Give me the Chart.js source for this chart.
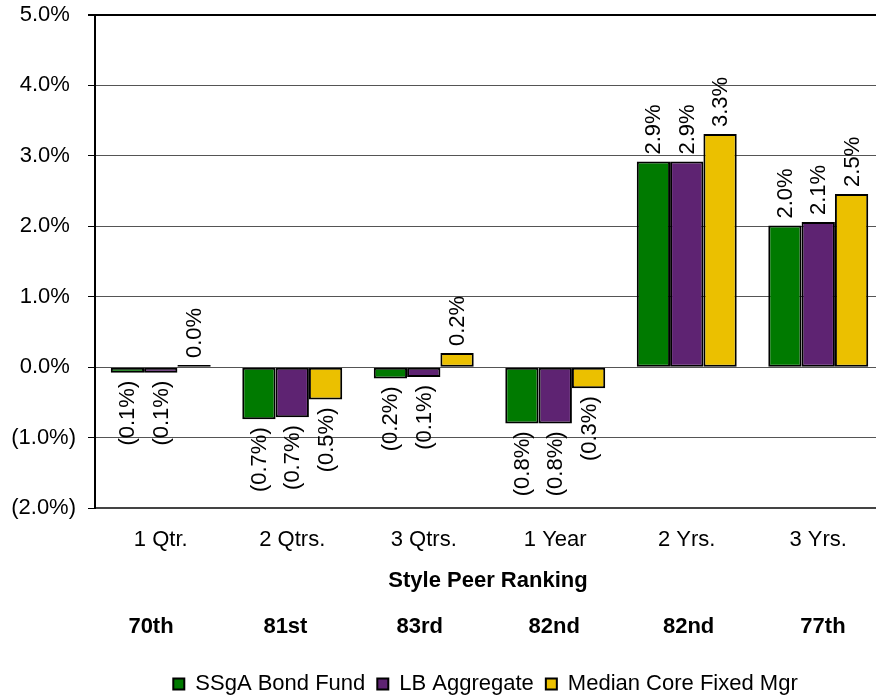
<!DOCTYPE html>
<html>
<head>
<meta charset="utf-8">
<script src="https://cdn.jsdelivr.net/npm/chart.js@4/dist/chart.umd.min.js"></script>
<style>
  html, body { margin: 0; padding: 0; background: #fff; overflow: hidden; }
  /* plot area runs a few px past the right edge, as in the original */
  #wrap { width: 876px; height: 700px; overflow: hidden; }
</style>
</head>
<body>
<div id="wrap"><canvas id="myChart" width="884" height="700"></canvas></div>
<script>
const periods = ['1 Qtr.', '2 Qtrs.', '3 Qtrs.', '1 Year', '2 Yrs.', '3 Yrs.'];
const ssgaFund = [-0.08, -0.74, -0.16, -0.80, 2.92, 2.01];
const lbAggregate = [-0.08, -0.71, -0.14, -0.80, 2.92, 2.06];
const medianCore = [0.03, -0.46, 0.20, -0.30, 3.31, 2.46];
const peerRanks = ['70th', '81st', '83rd', '82nd', '82nd', '77th'];

const FONT = 'Liberation Sans, Arial, sans-serif';

const fmtPct = v => v < 0 ? '(' + Math.abs(v).toFixed(1) + '%)' : v.toFixed(1) + '%';

// rotated value labels above/below each bar
const barLabels = {
    id: 'barLabels',
    afterDatasetsDraw(chart) {
        const ctx = chart.ctx;
        ctx.save();
        ctx.font = '22px ' + FONT;
        ctx.fillStyle = '#000';
        ctx.textBaseline = 'middle';
        chart.data.datasets.forEach((ds, i) => {
            chart.getDatasetMeta(i).data.forEach((bar, j) => {
                const v = ds.data[j];
                ctx.save();
                if (v >= 0) {
                    ctx.translate(bar.x, bar.y - 7);
                    ctx.rotate(-Math.PI / 2);
                    ctx.textAlign = 'left';
                } else {
                    ctx.translate(bar.x, bar.y + 8);
                    ctx.rotate(-Math.PI / 2);
                    ctx.textAlign = 'right';
                }
                ctx.fillText(fmtPct(v), 0, 1);
                ctx.restore();
            });
        });
        ctx.restore();
    }
};

// style peer ranking rows under the axis, legend centred under the visible plot
const peerRow = {
    id: 'peerRow',
    beforeDraw(chart) {
        chart.legend.left = chart.chartArea.left;
        chart.legend.right = 876;
        chart.legend.top = chart.chartArea.bottom + 153;
    },
    afterDraw(chart) {
        const ctx = chart.ctx;
        const x = chart.scales.x;
        const step = (x.getPixelForValue(1) - x.getPixelForValue(0)) * 1.022;
        ctx.save();
        ctx.font = 'bold 22px ' + FONT;
        ctx.fillStyle = '#000';
        ctx.textAlign = 'center';
        ctx.textBaseline = 'middle';
        ctx.fillText('Style Peer Ranking', 488, 581);
        peerRanks.forEach((r, i) => {
            ctx.fillText(r, 487 + (i - 2.5) * step, 627);
        });
        ctx.restore();
    }
};

new Chart(document.getElementById('myChart'), {
    type: 'bar',
    data: {
        labels: periods,
        datasets: [{
            label: 'SSgA Bond Fund',
            data: ssgaFund,
            backgroundColor: '#007A00',
            borderColor: '#000',
            borderWidth: 2,
            borderSkipped: false
        }, {
            label: 'LB Aggregate',
            data: lbAggregate,
            backgroundColor: '#5E2372',
            borderColor: '#000',
            borderWidth: 2,
            borderSkipped: false
        }, {
            label: 'Median Core Fixed Mgr',
            data: medianCore,
            backgroundColor: '#EBC000',
            borderColor: '#000',
            borderWidth: 2,
            borderSkipped: false
        }]
    },
    options: {
        responsive: false,
        animation: false,
        layout: { padding: { top: 15, right: 0, bottom: 2, left: 0 } },
        datasets: { bar: { categoryPercentage: 0.76, barPercentage: 1.0 } },
        scales: {
            x: {
                grid: { display: false, drawTicks: false },
                border: { color: '#444', width: 2 },
                ticks: { color: '#000', font: { family: FONT, size: 22 }, padding: 19 },
                afterFit: s => { s.height = 146; s.paddingLeft = 0; s.paddingRight = 0; }
            },
            y: {
                min: -2,
                max: 5,
                ticks: {
                    stepSize: 1,
                    color: '#000',
                    font: { family: FONT, size: 22 },
                    padding: 12,
                    callback: v => v < 0 ? fmtPct(v) : fmtPct(v) + ' '
                },
                grid: {
                    color: c => c.tick && c.tick.value === 5 ? '#000' : '#555',
                    lineWidth: c => c.tick && c.tick.value === 5 ? 2 : 1,
                    tickColor: '#000',
                    tickLength: 7
                },
                border: { color: '#000', width: 2 },
                afterFit: s => { s.width = 95; s.paddingTop = 0; s.paddingBottom = 0; }
            }
        },
        plugins: {
            legend: {
                position: 'bottom',
                labels: {
                    color: '#000',
                    font: { family: FONT, size: 22 },
                    boxWidth: 11,
                    boxHeight: 11,
                    padding: 12
                }
            },
            tooltip: { enabled: false }
        }
    },
    plugins: [barLabels, peerRow]
});
</script>
</body>
</html>
